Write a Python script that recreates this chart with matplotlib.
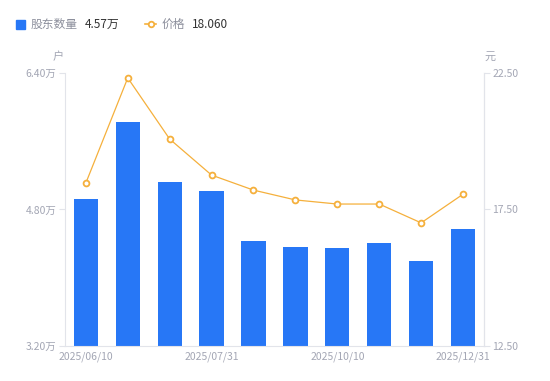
import matplotlib.pyplot as plt

plt.rcParams['font.family'] = ['Noto Sans CJK SC', 'DejaVu Sans']

dates = ["2025/06/10", "", "", "2025/07/31", "", "", "2025/10/10", "", "", "2025/12/31"]
holders = [4.92, 5.83, 5.12, 5.02, 4.43, 4.36, 4.35, 4.41, 4.20, 4.57]
price = [18.47, 22.32, 20.08, 18.76, 18.21, 17.85, 17.70, 17.70, 17.01, 18.06]
left_ticks = [3.20, 4.80, 6.40]
right_ticks = [12.50, 17.50, 22.50]

blue = "#2777f6"
orange = "#f5b03c"
gray = "#a3a6b4"
axis_gray = "#e2e4ea"

fig = plt.figure(figsize=(5.5, 3.81), dpi=100)
ax = fig.add_axes([0.118, 0.0919, 0.762, 0.7165])
x = list(range(len(holders)))
ax.bar(x, [h - left_ticks[0] for h in holders], bottom=left_ticks[0], width=0.58, color=blue, zorder=2)
ax.set_xlim(-0.5, len(holders) - 0.5)
ax.set_ylim(left_ticks[0], left_ticks[-1])
ax.set_yticks(left_ticks)
ax.set_yticklabels([f"{t:.2f}万" for t in left_ticks])
ax.set_xticks(x)
ax.set_xticklabels(dates)
ax.tick_params(axis='x', length=0, labelsize=7.5, colors=gray, pad=4)
ax.tick_params(axis='y', length=4, width=0.8, color=axis_gray, labelsize=7.5, labelcolor=gray, pad=2)
ax.spines["top"].set_visible(False)
for s in ["left", "bottom", "right"]:
    ax.spines[s].set_color(axis_gray)
    ax.spines[s].set_linewidth(0.8)

ax2 = ax.twinx()
ax2.plot(x, price, color=orange, lw=0.9, marker='o', ms=4.2, mfc='white', mec=orange, mew=1.3, zorder=3)
ax2.set_ylim(right_ticks[0], right_ticks[-1])
ax2.set_yticks(right_ticks)
ax2.set_yticklabels([f"{t:.2f}" for t in right_ticks])
ax2.tick_params(axis='y', length=4, width=0.8, color=axis_gray, labelsize=7.5, labelcolor=gray, pad=2)
for s in ["top", "left", "bottom"]:
    ax2.spines[s].set_visible(False)
ax2.spines["right"].set_color(axis_gray)
ax2.spines["right"].set_linewidth(0.8)

fig.text(58 / 550, 1 - 57 / 381, "户", fontsize=8, color=gray, ha='center', va='center')
fig.text(490 / 550, 1 - 57 / 381, "元", fontsize=8, color=gray, ha='center', va='center')

# legend
ly = 1 - 24 / 381
fig.patches.append(plt.Rectangle((16 / 550, 1 - 29 / 381), 9 / 550, 9 / 381, transform=fig.transFigure,
                                 color=blue, figure=fig))
fig.text(31 / 550, ly, "股东数量", fontsize=8.5, color="#8c8f9c", va='center')
fig.text(85 / 550, ly, f"{holders[-1]:.2f}万", fontsize=8.5, color="#333333", va='center')
fig.lines.append(plt.Line2D([145 / 550, 150.5 / 550, 156 / 550], [ly, ly, ly], transform=fig.transFigure,
                            color=orange, lw=1.2, marker='o', ms=4, mfc='white', mec=orange, mew=1.3,
                            markevery=[1], figure=fig))
fig.text(162 / 550, ly, "价格", fontsize=8.5, color="#8c8f9c", va='center')
fig.text(192 / 550, ly, f"{price[-1]:.3f}", fontsize=8.5, color="#333333", va='center')

fig.savefig("out.png", dpi=100)
